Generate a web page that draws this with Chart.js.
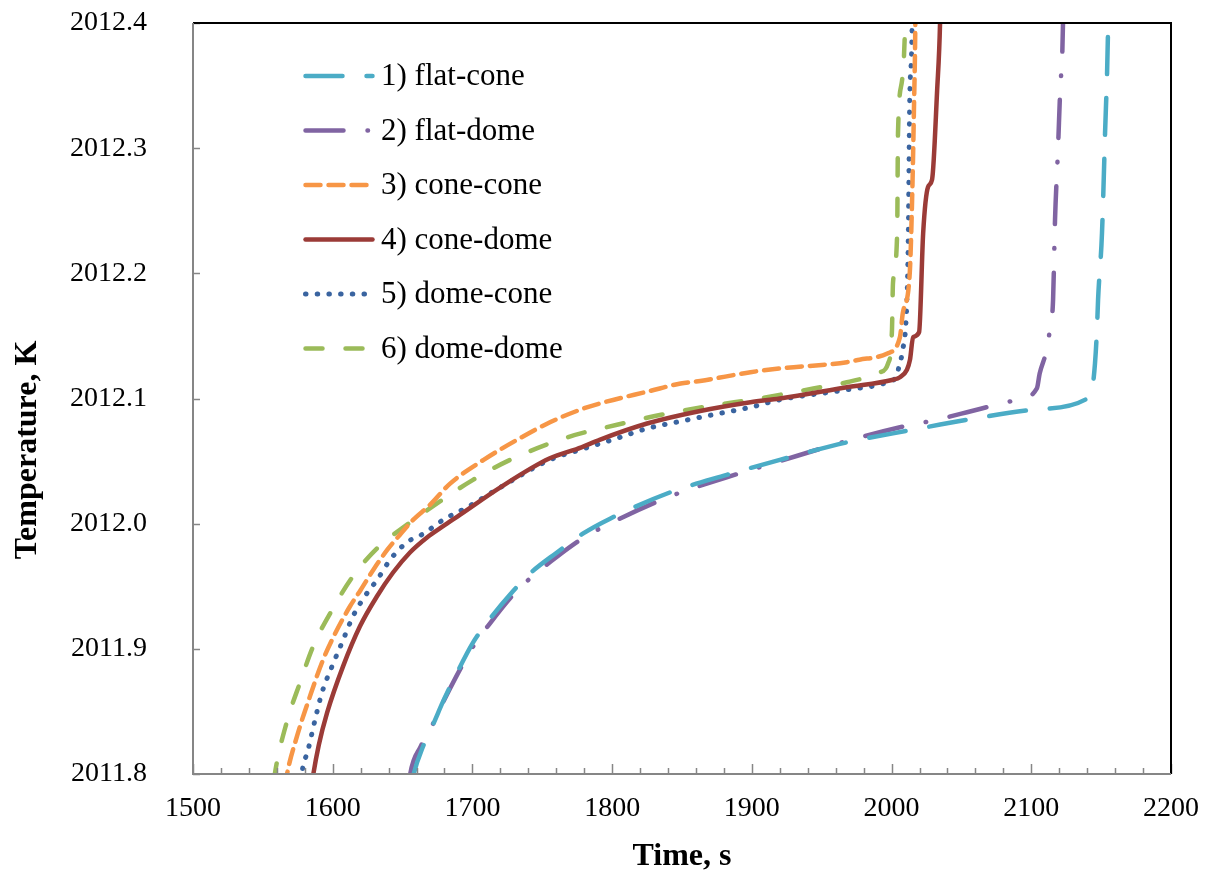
<!DOCTYPE html>
<html>
<head>
<meta charset="utf-8">
<script src="https://cdn.jsdelivr.net/npm/chart.js@4.4.0/dist/chart.umd.min.js"></script>
<style>
  body { margin: 0; background: #fff; }
  canvas { display: block; }
</style>
</head>
<body>
<canvas id="myChart" width="1206" height="880"></canvas>
<script>
// Axis ticks
const xTicks = [1500, 1600, 1700, 1800, 1900, 2000, 2100, 2200];
const yTicks = [2011.8, 2011.9, 2012.0, 2012.1, 2012.2, 2012.3, 2012.4];

// Series names
const seriesNames = ['1) flat-cone', '2) flat-dome', '3) cone-cone', '4) cone-dome', '5) dome-cone', '6) dome-dome'];

// 1) flat-cone
const flatConeTime = [1657, 1657.5, 1665, 1672, 1679, 1689, 1700.4, 1712.6, 1729, 1741, 1760.5, 1779, 1798.5, 1841.4, 1882, 1920, 1968, 2015, 2054, 2101, 2140, 2143.5, 2145.6, 2147, 2147.8, 2150.6, 2152.8, 2155, 2155.5];
const flatConeTemp = [2011.795, 2011.798, 2011.823, 2011.840, 2011.858, 2011.881, 2011.905, 2011.924, 2011.946, 2011.960, 2011.977, 2011.992, 2012.004, 2012.025, 2012.039, 2012.051, 2012.065, 2012.075, 2012.083, 2012.091, 2012.100, 2012.107, 2012.128, 2012.155, 2012.179, 2012.232, 2012.312, 2012.400, 2012.450];

// 2) flat-dome
const flatDomeTime = [1655, 1655.5, 1663, 1670, 1678, 1688, 1700, 1713, 1729, 1742, 1761, 1780, 1800, 1842, 1882, 1920, 1968, 2006, 2032, 2054, 2075, 2090, 2104, 2106, 2111, 2113.4, 2115.6, 2117, 2119, 2120.6, 2122.7, 2123.2];
const flatDomeTemp = [2011.795, 2011.800, 2011.822, 2011.836, 2011.855, 2011.877, 2011.901, 2011.921, 2011.943, 2011.957, 2011.974, 2011.989, 2012.001, 2012.022, 2012.037, 2012.050, 2012.066, 2012.077, 2012.083, 2012.089, 2012.095, 2012.099, 2012.108, 2012.120, 2012.139, 2012.156, 2012.179, 2012.243, 2012.296, 2012.344, 2012.400, 2012.450];

// 3) cone-cone
const coneConeTime = [1566, 1567, 1574.4, 1583.7, 1593, 1603, 1612.4, 1620, 1629, 1639, 1648, 1657.5, 1669.6, 1684, 1708, 1732, 1755.5, 1777, 1791, 1827, 1849, 1863, 1899, 1920, 1968, 1977, 1997, 2006, 2008, 2013, 2014.7, 2016, 2017, 2017.3];
const coneConeTemp = [2011.790, 2011.798, 2011.830, 2011.862, 2011.891, 2011.915, 2011.934, 2011.947, 2011.963, 2011.979, 2011.991, 2012.003, 2012.015, 2012.032, 2012.051, 2012.067, 2012.081, 2012.091, 2012.096, 2012.106, 2012.112, 2012.114, 2012.121, 2012.124, 2012.129, 2012.131, 2012.136, 2012.149, 2012.168, 2012.200, 2012.259, 2012.330, 2012.400, 2012.450];

// 4) cone-dome
const coneDomeTime = [1585.5, 1586, 1590, 1596, 1607.4, 1619.5, 1631.7, 1643.2, 1655.3, 1667.5, 1679, 1691, 1720, 1755, 1778, 1791, 1825, 1863, 1899, 1920, 1968, 2001, 2006, 2011, 2013.2, 2015.4, 2019.7, 2022.6, 2026.1, 2029, 2032.6, 2034.7, 2035.5];
const coneDomeTemp = [2011.795, 2011.799, 2011.823, 2011.849, 2011.886, 2011.918, 2011.942, 2011.961, 2011.977, 2011.989, 2011.998, 2012.007, 2012.029, 2012.052, 2012.061, 2012.067, 2012.080, 2012.090, 2012.097, 2012.100, 2012.109, 2012.115, 2012.117, 2012.123, 2012.131, 2012.149, 2012.153, 2012.232, 2012.269, 2012.275, 2012.346, 2012.400, 2012.450];

// 5) dome-cone
const domeConeTime = [1577.5, 1578, 1582.3, 1587.3, 1592.3, 1599.5, 1607.4, 1614.5, 1623, 1631.7, 1641, 1653, 1665, 1679, 1696, 1720, 1755.5, 1780, 1803, 1825, 1850, 1872, 1899, 1920, 1968, 1997, 2004, 2005.5, 2007.5, 2011, 2012, 2013, 2014.7, 2015];
const domeConeTemp = [2011.795, 2011.801, 2011.819, 2011.843, 2011.865, 2011.886, 2011.907, 2011.926, 2011.942, 2011.955, 2011.971, 2011.985, 2011.992, 2012.003, 2012.013, 2012.029, 2012.051, 2012.060, 2012.068, 2012.076, 2012.082, 2012.087, 2012.093, 2012.099, 2012.107, 2012.113, 2012.119, 2012.127, 2012.136, 2012.179, 2012.232, 2012.339, 2012.400, 2012.450];

// 6) dome-dome
const domeDomeTime = [1558, 1558.7, 1567, 1576.6, 1586, 1599.5, 1614.5, 1632.4, 1653, 1677, 1700.4, 1727, 1768, 1803.5, 1835, 1875, 1900, 1944, 1968, 1992, 1997.5, 2000.3, 2001, 2004, 2004.6, 2007.5, 2009.5, 2010.5];
const domeDomeTemp = [2011.795, 2011.801, 2011.841, 2011.873, 2011.902, 2011.931, 2011.958, 2011.981, 2011.999, 2012.018, 2012.035, 2012.051, 2012.069, 2012.079, 2012.087, 2012.095, 2012.099, 2012.108, 2012.113, 2012.121, 2012.128, 2012.155, 2012.192, 2012.232, 2012.312, 2012.354, 2012.392, 2012.450];

function toPoints(times, temps) {
  return times.map((t, i) => ({ x: t, y: temps[i] }));
}

function series(label, times, temps, color, dash, width) {
  return {
    label: label,
    data: toPoints(times, temps),
    borderColor: color,
    borderWidth: width,
    borderDash: dash,
    borderCapStyle: 'round',
    borderJoinStyle: 'round',
    pointRadius: 0,
    fill: false,
    cubicInterpolationMode: 'monotone'
  };
}

const serif = '"Liberation Serif", "Times New Roman", serif';

// Frame, ticks, labels, titles and legend
const decorations = {
  id: 'decorations',
  afterDraw(chart) {
    const ctx = chart.ctx;
    const a = chart.chartArea;
    const xs = chart.scales.x;
    const ys = chart.scales.y;
    ctx.save();
    ctx.setLineDash([]);

    // minor / major ticks on x, inside
    ctx.strokeStyle = '#868686';
    ctx.lineWidth = 1.5;
    for (let v = 1500; v <= 2200; v += 20) {
      const px = Math.round(xs.getPixelForValue(v)) + 0.5;
      const len = v % 100 === 0 ? 10 : 6;
      ctx.beginPath();
      ctx.moveTo(px, a.bottom);
      ctx.lineTo(px, a.bottom - len);
      ctx.stroke();
    }
    yTicks.forEach(v => {
      const py = Math.round(ys.getPixelForValue(v)) + 0.5;
      ctx.beginPath();
      ctx.moveTo(a.left, py);
      ctx.lineTo(a.left + 7, py);
      ctx.stroke();
    });

    // frame
    ctx.lineWidth = 2;
    ctx.strokeStyle = '#000000';
    ctx.beginPath();
    ctx.moveTo(a.left, a.top);
    ctx.lineTo(a.right, a.top);
    ctx.lineTo(a.right, a.bottom);
    ctx.stroke();
    ctx.strokeStyle = '#868686';
    ctx.beginPath();
    ctx.moveTo(a.left, a.top);
    ctx.lineTo(a.left, a.bottom);
    ctx.lineTo(a.right, a.bottom);
    ctx.stroke();

    // tick labels
    ctx.fillStyle = '#000';
    ctx.font = '28px ' + serif;
    ctx.textAlign = 'center';
    ctx.textBaseline = 'middle';
    xTicks.forEach(v => {
      ctx.fillText(String(v), xs.getPixelForValue(v), a.bottom + 35);
    });
    ctx.textAlign = 'right';
    yTicks.forEach(v => {
      ctx.fillText(v.toFixed(1), a.left - 46, ys.getPixelForValue(v));
    });

    // axis titles
    ctx.font = 'bold 32px ' + serif;
    ctx.textAlign = 'center';
    ctx.fillText('Time, s', (a.left + a.right) / 2, 857);
    ctx.save();
    ctx.translate(28, 450);
    ctx.rotate(-Math.PI / 2);
    ctx.fillText('Temperature, K', 0, 0);
    ctx.restore();

    // legend
    ctx.font = '31px ' + serif;
    ctx.textAlign = 'left';
    chart.data.datasets.forEach((ds, i) => {
      const rowY = 76 + i * 54.5;
      ctx.save();
      ctx.strokeStyle = ds.borderColor;
      ctx.lineWidth = ds.borderWidth;
      ctx.lineCap = 'round';
      ctx.setLineDash(ds.borderDash);
      ctx.beginPath();
      ctx.moveTo(305.5, rowY);
      ctx.lineTo(372.5, rowY);
      ctx.stroke();
      ctx.restore();
      ctx.fillText(ds.label, 381, rowY + 1);
    });
    ctx.restore();
  }
};

const ctx = document.getElementById('myChart').getContext('2d');

const myChart = new Chart(ctx, {
  type: 'line',
  data: {
    datasets: [
      series(seriesNames[0], flatConeTime, flatConeTemp, '#4BACC6', [37, 24], 4.5),
      series(seriesNames[1], flatDomeTime, flatDomeTemp, '#8064A2', [38, 24, 0.5, 24], 4.5),
      series(seriesNames[2], coneConeTime, coneConeTemp, '#F79646', [15, 8], 4.5),
      series(seriesNames[3], coneDomeTime, coneDomeTemp, '#9B3B37', [], 4.5),
      series(seriesNames[4], domeConeTime, domeConeTemp, '#3A64A0', [0.5, 11.2], 5),
      series(seriesNames[5], domeDomeTime, domeDomeTemp, '#9BBB59', [17, 23], 4.5)
    ]
  },
  options: {
    responsive: false,
    animation: false,
    devicePixelRatio: 1,
    layout: {
      padding: { left: 193, right: 35, top: 23, bottom: 106 }
    },
    plugins: {
      legend: { display: false },
      tooltip: { enabled: false }
    },
    scales: {
      x: {
        type: 'linear',
        display: false,
        min: 1500,
        max: 2200
      },
      y: {
        type: 'linear',
        display: false,
        min: 2011.8,
        max: 2012.4
      }
    }
  },
  plugins: [decorations]
});
</script>
</body>
</html>
